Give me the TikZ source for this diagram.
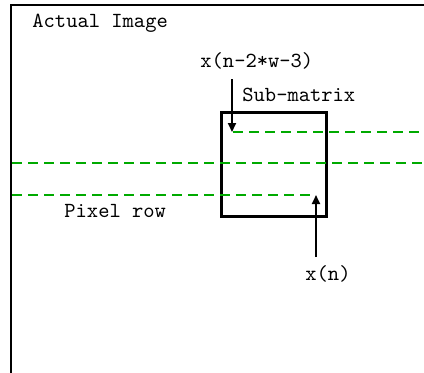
\documentclass[tikz,border=0pt]{standalone}
\usetikzlibrary{arrows.meta}
\definecolor{rowgreen}{RGB}{0,170,0}
\tikzset{
  lbl/.style={anchor=base west,inner sep=0pt,font=\ttfamily\fontsize{10.75}{12}\selectfont},
  pixrow/.style={draw=rowgreen,line width=1pt,dash pattern=on 5pt off 3pt},
  pointer/.style={-{Triangle[length=4.5pt,width=4pt]},line width=1pt}
}
\begin{document}
\begin{tikzpicture}[x=0.5pt,y=-0.5pt]
      \useasboundingbox (0,0) rectangle (424,372);
      % image border, cut off right and bottom
      \draw[line width=1pt] (11,373) -- (11,5) -- (425,5);
      \draw
        (32,27) node[lbl] (actual){Actual Image}
        (200,67) node[lbl] (xtop){x(n-2*w-3)}
        (242,101) node[lbl] (sublbl){Sub-matrix}
        (64,217) node[lbl] (rowlbl){Pixel row}
        (305,280) node[lbl] (xn){x(n)};
      \node[draw,line width=1.5pt,minimum width=52.5pt,minimum height=52pt,inner sep=0pt] (sub) at (274,164) {};
      \coordinate (a1) at (233,132);
      \coordinate (b1) at (425,132);
      \coordinate (a2) at (12,163);
      \coordinate (b2) at (425,163);
      \coordinate (a3) at (12,195);
      \coordinate (b3) at (315,195);
      \coordinate (ttop) at (232,79);
      \coordinate (tbot) at (316,257);
      \begin{scope}[pixrow]
        \draw (a1) -- (b1);
        \draw (a2) -- (b2);
        \draw (a3) -- (b3);
      \end{scope}
      \begin{scope}[pointer]
        \draw (ttop) -- (ttop |- a1);
        \draw (tbot) -- (tbot |- b3);
      \end{scope}
    \end{tikzpicture}
\end{document}
